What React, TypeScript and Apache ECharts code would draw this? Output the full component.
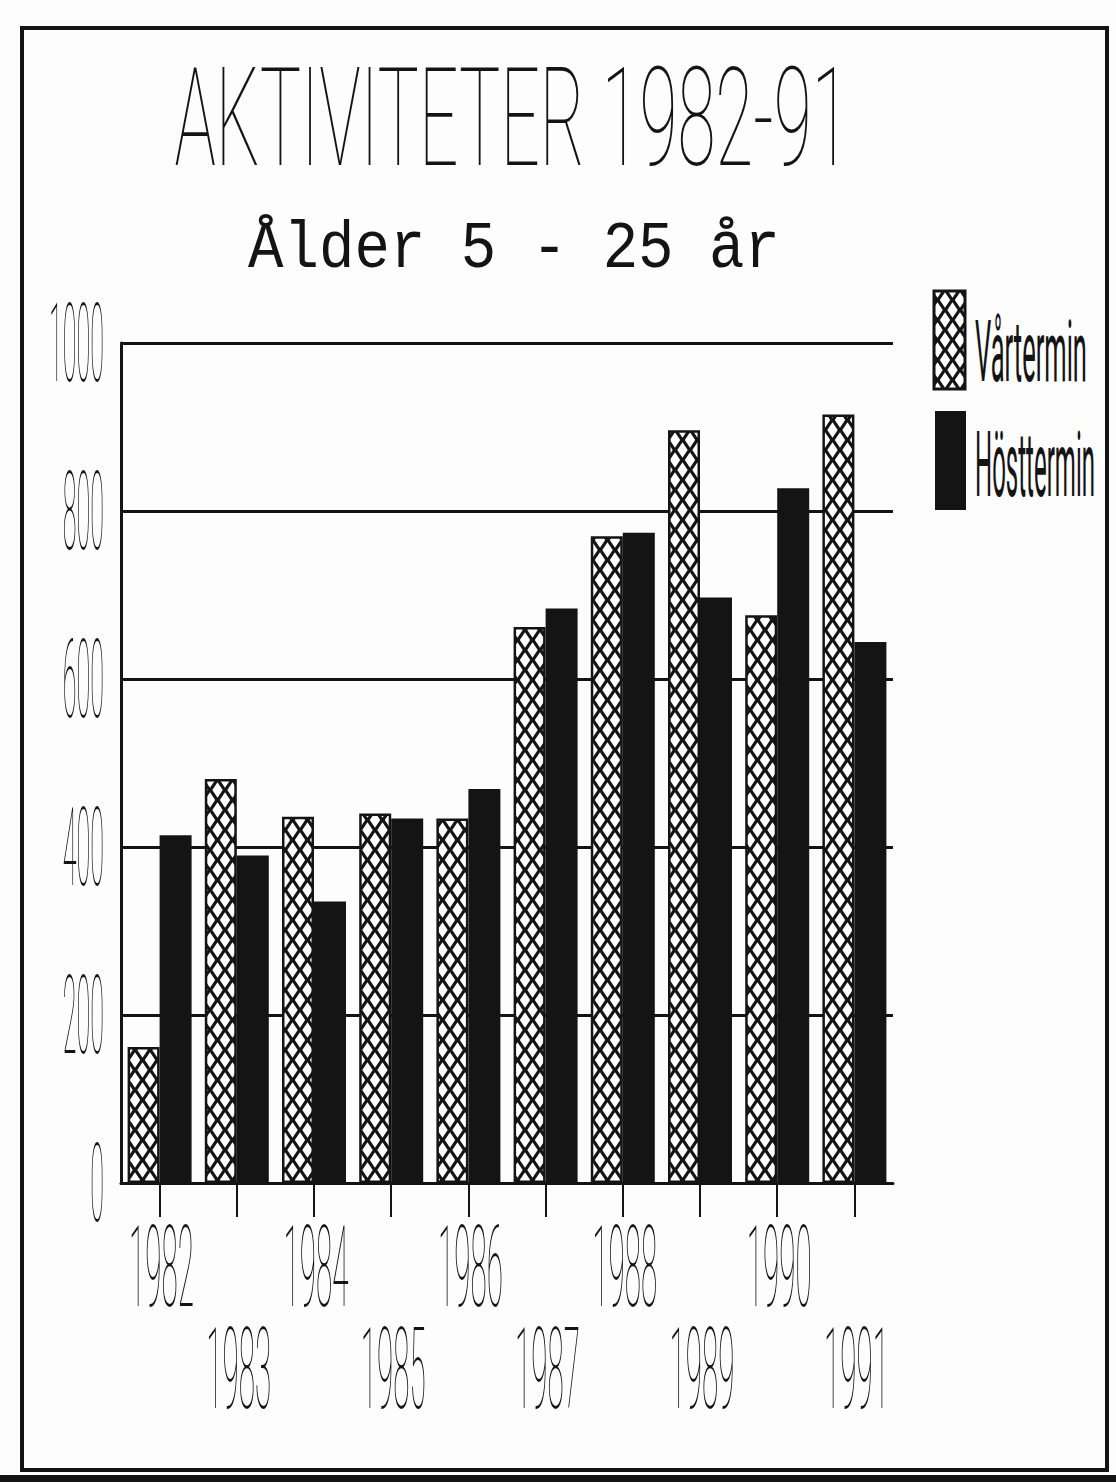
import React, { useEffect, useRef } from "react";
import * as echarts from "echarts";

const years = ["1982", "1983", "1984", "1985", "1986", "1987", "1988", "1989", "1990", "1991"];
const varterminValues = [162, 481, 436, 440, 434, 662, 770, 896, 676, 915];
const hostterminValues = [414, 390, 335, 434, 469, 684, 774, 697, 827, 644];
const yTickValues = [0, 200, 400, 600, 800, 1000];
const seriesNames = ["Vårtermin", "Hösttermin"];
const titleText = "AKTIVITETER 1982-91";
const subtitleText = "Ålder 5 - 25 år";

const INK = "#141414";
const PAPER = "#fdfdfd";
const THIN_FAMILY = "Roboto, 'Lato', sans-serif";
const MONO_FAMILY = "'Liberation Mono', 'DejaVu Sans Mono', monospace";

function makePattern() {
  const w = 15;
  const h = 20;
  const c = document.createElement("canvas");
  c.width = w;
  c.height = h;
  const ctx = c.getContext("2d")!;
  ctx.fillStyle = INK;
  ctx.fillRect(0, 0, w, h);
  ctx.fillStyle = "#ffffff";
  const hw = 5.2;
  const hh = 7.7;
  const dia = (cx: number, cy: number) => {
    ctx.beginPath();
    ctx.moveTo(cx, cy - hh);
    ctx.lineTo(cx + hw, cy);
    ctx.lineTo(cx, cy + hh);
    ctx.lineTo(cx - hw, cy);
    ctx.closePath();
    ctx.fill();
  };
  dia(w / 2, h / 2);
  dia(0, 0);
  dia(w, 0);
  dia(0, h);
  dia(w, h);
  return { image: c.toDataURL("image/png"), repeat: "repeat", imageWidth: w, imageHeight: h };
}

function measure(text: string, size: number, family: string, weight: string | number) {
  const ctx = document.createElement("canvas").getContext("2d")!;
  ctx.font = `${weight} ${size}px ${family}`;
  return ctx.measureText(text).width;
}

function scaledText(
  text: string,
  x: number,
  y: number,
  align: string,
  targetW: number,
  targetCapH: number,
  size: number,
  family: string,
  weight: string | number,
  capRatio: number
) {
  const mw = measure(text, size, family, weight) || size * text.length * 0.55;
  return {
    type: "text",
    x,
    y,
    scaleX: targetW / mw,
    scaleY: targetCapH / (capRatio * size),
    silent: true,
    style: {
      text,
      x: 0,
      y: 0,
      fontSize: size,
      fontFamily: family,
      fontWeight: weight,
      fill: INK,
      align,
      verticalAlign: "middle",
      textAlign: align,
      textVerticalAlign: "middle",
    } as any,
  };
}

export default function App() {
  const ref = useRef<HTMLDivElement>(null);

  useEffect(() => {
    document.body.style.margin = "0";
    const el = ref.current!;
    const chart = echarts.init(el, null, { renderer: "svg" });
    const pattern = makePattern();

    chart.setOption({
      animation: false,
      backgroundColor: PAPER,
      grid: { left: 121, right: 223, top: 343, bottom: 299, containLabel: false },
      xAxis: {
        type: "category",
        data: years,
        axisLine: { show: true, lineStyle: { color: INK, width: 3 } },
        axisTick: { show: true, alignWithLabel: true, interval: 0, length: 34, lineStyle: { color: INK, width: 2 } },
        axisLabel: { show: false },
        splitLine: { show: false },
      },
      yAxis: {
        type: "value",
        min: 0,
        max: 1000,
        interval: 200,
        axisLine: { show: true, lineStyle: { color: INK, width: 3 } },
        axisTick: { show: false },
        axisLabel: { show: false },
        splitLine: { show: true, lineStyle: { color: INK, width: 3 } },
      },
      series: [
        {
          type: "bar",
          name: seriesNames[0],
          data: varterminValues,
          barWidth: 32,
          barGap: "0%",
          itemStyle: { color: pattern, borderColor: INK, borderWidth: 2.5 },
        },
        {
          type: "bar",
          name: seriesNames[1],
          data: hostterminValues,
          barWidth: 32,
          barGap: "0%",
          itemStyle: { color: INK },
        },
      ],
    });

    const elements: any[] = [];
    // frame
    elements.push({
      type: "rect",
      silent: true,
      shape: { x: 22, y: 28, width: 1085, height: 1442 },
      style: { fill: "none", stroke: INK, lineWidth: 4 },
    });
    elements.push({
      type: "rect",
      silent: true,
      shape: { x: 0, y: 1475, width: 1116, height: 7 },
      style: { fill: INK },
    });
    // title & subtitle
    elements.push(scaledText(titleText, 512, 118, "center", 675, 98, 60, THIN_FAMILY, 100, 0.711));
    const sub = scaledText(subtitleText, 514, 250, "center", 532, 44, 58, MONO_FAMILY, "normal", 0.66);
    sub.style.stroke = PAPER;
    sub.style.lineWidth = 1.6;
    elements.push(sub);

    // y labels
    const yRef = measure("1000", 25, THIN_FAMILY, 100) || 56;
    const ySX = 55 / yRef;
    yTickValues.forEach((v) => {
      const py = chart.convertToPixel({ yAxisIndex: 0 }, v) as number;
      const t = scaledText(String(v), 104, py, "right", 1, 78, 25, THIN_FAMILY, 100, 0.711);
      t.scaleX = ySX;
      elements.push(t);
    });

    // x labels
    const xRef = measure("1982", 28, THIN_FAMILY, 100) || 63;
    const xSX = 65 / xRef;
    const axisY = chart.convertToPixel({ yAxisIndex: 0 }, 0) as number;
    years.forEach((yr, i) => {
      const px = chart.convertToPixel({ xAxisIndex: 0 }, yr) as number;
      const cy = axisY + (i % 2 === 0 ? 85 : 187);
      const t = scaledText(yr, px + 2, cy, "center", 1, 80, 28, THIN_FAMILY, 100, 0.711);
      t.scaleX = xSX;
      elements.push(t);
    });

    // legend
    elements.push({
      type: "rect",
      silent: true,
      shape: { x: 934, y: 291, width: 31, height: 98 },
      style: { fill: pattern, stroke: INK, lineWidth: 3 },
    });
    elements.push({
      type: "rect",
      silent: true,
      shape: { x: 935, y: 411, width: 31, height: 99 },
      style: { fill: INK },
    });
    elements.push(scaledText(seriesNames[0], 975, 352, "left", 112, 60, 26, THIN_FAMILY, 400, 0.711));
    elements.push(scaledText(seriesNames[1], 975, 465, "left", 120, 65, 26, THIN_FAMILY, 400, 0.711));

    chart.setOption({ graphic: { elements } });

    return () => {
      chart.dispose();
    };
  }, []);

  return (
    <div
      ref={ref}
      style={{ position: "absolute", left: 0, top: 0, width: 1116, height: 1482 }}
    />
  );
}
